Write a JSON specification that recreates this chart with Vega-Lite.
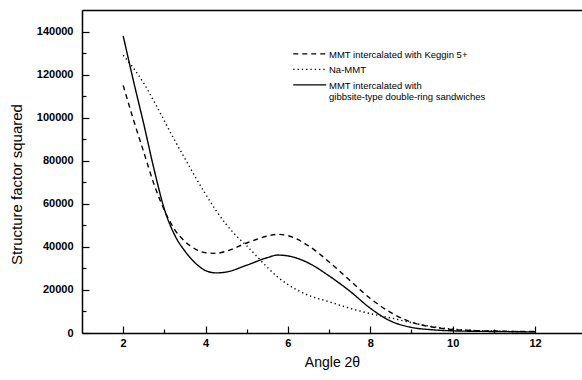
{
  "$schema": "https://vega.github.io/schema/vega-lite/v6.json",
  "width": 500,
  "height": 323,
  "autosize": {"type": "none"},
  "padding": {"left": 82, "top": 10, "right": 0, "bottom": 47},
  "background": "white",
  "config": {
    "view": {"stroke": null},
    "font": "Liberation Sans",
    "axis": {"grid": false, "domainColor": "black", "tickColor": "black", "labelColor": "black", "titleColor": "black", "domainWidth": 1.5, "tickWidth": 1.2, "labelFont": "Liberation Sans", "labelFontSize": 11, "labelFontWeight": "bold", "titleFont": "Liberation Sans", "titleFontSize": 14, "titleFontWeight": "normal"}
  },
  "datasets": {
    "curves": [
      {"x": 2, "y": 115000, "series": "MMT intercalated with Keggin 5+"},
      {"x": 2.25, "y": 99000, "series": "MMT intercalated with Keggin 5+"},
      {"x": 2.5, "y": 84000, "series": "MMT intercalated with Keggin 5+"},
      {"x": 2.75, "y": 69000, "series": "MMT intercalated with Keggin 5+"},
      {"x": 3, "y": 57000, "series": "MMT intercalated with Keggin 5+"},
      {"x": 3.25, "y": 48000, "series": "MMT intercalated with Keggin 5+"},
      {"x": 3.5, "y": 42500, "series": "MMT intercalated with Keggin 5+"},
      {"x": 3.75, "y": 39000, "series": "MMT intercalated with Keggin 5+"},
      {"x": 4, "y": 37300, "series": "MMT intercalated with Keggin 5+"},
      {"x": 4.25, "y": 37000, "series": "MMT intercalated with Keggin 5+"},
      {"x": 4.5, "y": 38000, "series": "MMT intercalated with Keggin 5+"},
      {"x": 5, "y": 41800, "series": "MMT intercalated with Keggin 5+"},
      {"x": 5.5, "y": 45000, "series": "MMT intercalated with Keggin 5+"},
      {"x": 5.75, "y": 45800, "series": "MMT intercalated with Keggin 5+"},
      {"x": 6, "y": 45200, "series": "MMT intercalated with Keggin 5+"},
      {"x": 6.5, "y": 40500, "series": "MMT intercalated with Keggin 5+"},
      {"x": 7, "y": 33000, "series": "MMT intercalated with Keggin 5+"},
      {"x": 7.5, "y": 24500, "series": "MMT intercalated with Keggin 5+"},
      {"x": 8, "y": 16000, "series": "MMT intercalated with Keggin 5+"},
      {"x": 8.5, "y": 9500, "series": "MMT intercalated with Keggin 5+"},
      {"x": 9, "y": 5000, "series": "MMT intercalated with Keggin 5+"},
      {"x": 9.5, "y": 2800, "series": "MMT intercalated with Keggin 5+"},
      {"x": 10, "y": 1600, "series": "MMT intercalated with Keggin 5+"},
      {"x": 11, "y": 900, "series": "MMT intercalated with Keggin 5+"},
      {"x": 12, "y": 700, "series": "MMT intercalated with Keggin 5+"},
      {"x": 2, "y": 129000, "series": "Na-MMT"},
      {"x": 2.25, "y": 123000, "series": "Na-MMT"},
      {"x": 2.5, "y": 116000, "series": "Na-MMT"},
      {"x": 2.75, "y": 107500, "series": "Na-MMT"},
      {"x": 3, "y": 98500, "series": "Na-MMT"},
      {"x": 3.25, "y": 89500, "series": "Na-MMT"},
      {"x": 3.5, "y": 81000, "series": "Na-MMT"},
      {"x": 3.75, "y": 72500, "series": "Na-MMT"},
      {"x": 4, "y": 64500, "series": "Na-MMT"},
      {"x": 4.25, "y": 57000, "series": "Na-MMT"},
      {"x": 4.5, "y": 50500, "series": "Na-MMT"},
      {"x": 4.75, "y": 45000, "series": "Na-MMT"},
      {"x": 5, "y": 40500, "series": "Na-MMT"},
      {"x": 5.25, "y": 35500, "series": "Na-MMT"},
      {"x": 5.5, "y": 30500, "series": "Na-MMT"},
      {"x": 5.75, "y": 26000, "series": "Na-MMT"},
      {"x": 6, "y": 22500, "series": "Na-MMT"},
      {"x": 6.5, "y": 17500, "series": "Na-MMT"},
      {"x": 7, "y": 14500, "series": "Na-MMT"},
      {"x": 7.5, "y": 11500, "series": "Na-MMT"},
      {"x": 8, "y": 9000, "series": "Na-MMT"},
      {"x": 8.5, "y": 7000, "series": "Na-MMT"},
      {"x": 9, "y": 4800, "series": "Na-MMT"},
      {"x": 9.5, "y": 3000, "series": "Na-MMT"},
      {"x": 10, "y": 1800, "series": "Na-MMT"},
      {"x": 11, "y": 900, "series": "Na-MMT"},
      {"x": 12, "y": 600, "series": "Na-MMT"},
      {"x": 2, "y": 138000, "series": "MMT intercalated with gibbsite-type double-ring sandwiches"},
      {"x": 2.25, "y": 117000, "series": "MMT intercalated with gibbsite-type double-ring sandwiches"},
      {"x": 2.5, "y": 97000, "series": "MMT intercalated with gibbsite-type double-ring sandwiches"},
      {"x": 2.75, "y": 76000, "series": "MMT intercalated with gibbsite-type double-ring sandwiches"},
      {"x": 3, "y": 57500, "series": "MMT intercalated with gibbsite-type double-ring sandwiches"},
      {"x": 3.25, "y": 45500, "series": "MMT intercalated with gibbsite-type double-ring sandwiches"},
      {"x": 3.5, "y": 38000, "series": "MMT intercalated with gibbsite-type double-ring sandwiches"},
      {"x": 3.75, "y": 32500, "series": "MMT intercalated with gibbsite-type double-ring sandwiches"},
      {"x": 4, "y": 29000, "series": "MMT intercalated with gibbsite-type double-ring sandwiches"},
      {"x": 4.25, "y": 27900, "series": "MMT intercalated with gibbsite-type double-ring sandwiches"},
      {"x": 4.5, "y": 28300, "series": "MMT intercalated with gibbsite-type double-ring sandwiches"},
      {"x": 5, "y": 31500, "series": "MMT intercalated with gibbsite-type double-ring sandwiches"},
      {"x": 5.5, "y": 35000, "series": "MMT intercalated with gibbsite-type double-ring sandwiches"},
      {"x": 5.75, "y": 36200, "series": "MMT intercalated with gibbsite-type double-ring sandwiches"},
      {"x": 6, "y": 35800, "series": "MMT intercalated with gibbsite-type double-ring sandwiches"},
      {"x": 6.5, "y": 32500, "series": "MMT intercalated with gibbsite-type double-ring sandwiches"},
      {"x": 7, "y": 26500, "series": "MMT intercalated with gibbsite-type double-ring sandwiches"},
      {"x": 7.5, "y": 19500, "series": "MMT intercalated with gibbsite-type double-ring sandwiches"},
      {"x": 8, "y": 11500, "series": "MMT intercalated with gibbsite-type double-ring sandwiches"},
      {"x": 8.5, "y": 5500, "series": "MMT intercalated with gibbsite-type double-ring sandwiches"},
      {"x": 9, "y": 2600, "series": "MMT intercalated with gibbsite-type double-ring sandwiches"},
      {"x": 9.5, "y": 1500, "series": "MMT intercalated with gibbsite-type double-ring sandwiches"},
      {"x": 10, "y": 1000, "series": "MMT intercalated with gibbsite-type double-ring sandwiches"},
      {"x": 11, "y": 700, "series": "MMT intercalated with gibbsite-type double-ring sandwiches"},
      {"x": 12, "y": 500, "series": "MMT intercalated with gibbsite-type double-ring sandwiches"}
    ]
  },
  "data": {"name": "curves"},
  "resolve": {"axis": {"x": "independent", "y": "independent"}},
  "layer": [
    {
      "mark": {"type": "line", "interpolate": "monotone", "color": "black", "strokeWidth": 1.4},
      "encoding": {
        "x": {"field": "x", "type": "quantitative", "scale": {"domain": [1, 13.14], "nice": false, "zero": false},
          "axis": {"orient": "bottom", "values": [2, 4, 6, 8, 10, 12], "tickSize": -7, "labelPadding": 11, "title": "Angle 2θ", "titlePadding": 7}},
        "y": {"field": "y", "type": "quantitative", "scale": {"domain": [0, 150000], "nice": false},
          "axis": {"orient": "left", "values": [0, 20000, 40000, 60000, 80000, 100000, 120000, 140000], "format": "d", "tickSize": -7, "labelPadding": 16, "title": "Structure factor squared", "titleFontSize": 15, "titleBaseline": "middle", "titleX": -66, "titleY": 174}},
        "strokeDash": {"field": "series", "type": "nominal",
          "scale": {"domain": ["MMT intercalated with Keggin 5+", "Na-MMT", "MMT intercalated with gibbsite-type double-ring sandwiches"], "range": [[5, 4], [1.3, 3], [1, 0]]},
          "legend": {"orient": "none", "legendX": 223, "legendY": 35, "title": null, "symbolType": "M-8.25,2.05H8.25", "symbolSize": 16, "symbolStrokeWidth": 1.3, "symbolStrokeColor": "black", "symbolFillColor": "transparent", "labelFont": "Liberation Sans", "labelFontSize": 9.5, "labelColor": "black", "labelOffset": 14.5, "labelLimit": 400, "rowPadding": 0.5, "labelBaseline": "top",
            "labelExpr": "datum.label == 'MMT intercalated with gibbsite-type double-ring sandwiches' ? ['MMT intercalated with', 'gibbsite-type double-ring sandwiches'] : datum.label"}
        }
      }
    },
    {
      "mark": {"type": "line", "opacity": 0},
      "encoding": {
        "x": {"field": "x", "type": "quantitative", "scale": {"domain": [1, 13.14], "nice": false, "zero": false},
          "axis": {"orient": "top", "labels": false, "ticks": false, "title": null, "domain": true}},
        "y": {"field": "y", "type": "quantitative", "scale": {"domain": [0, 150000], "nice": false},
          "axis": {"orient": "left", "values": [10000, 30000, 50000, 70000, 90000, 110000, 130000], "tickSize": -4, "labels": false, "domain": false, "title": null}}
      }
    },
    {
      "mark": {"type": "line", "opacity": 0},
      "encoding": {
        "x": {"field": "x", "type": "quantitative", "scale": {"domain": [1, 13.14], "nice": false, "zero": false},
          "axis": {"orient": "bottom", "values": [3, 5, 7, 9, 11], "tickSize": -4, "labels": false, "domain": false, "title": null}},
        "y": {"field": "y", "type": "quantitative", "scale": {"domain": [0, 150000], "nice": false}, "axis": null}
      }
    }
  ]
}
